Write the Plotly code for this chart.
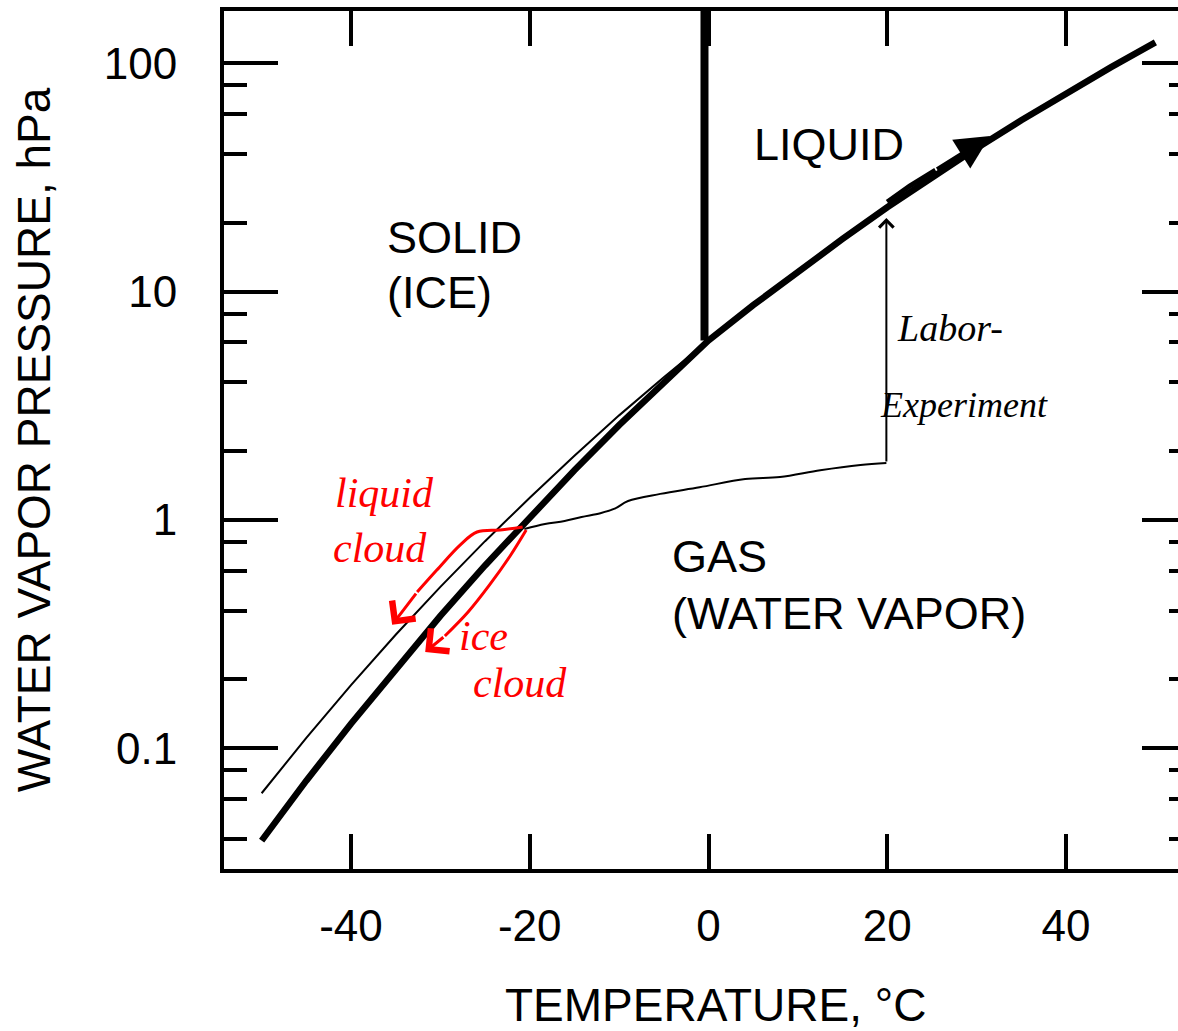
import numpy as np
import plotly.graph_objects as go

# ---------------- data ----------------
# heavy curve: saturation vapour pressure over ice (T<0) and liquid water (T>0), hPa
temp_c = [-50, -45, -40, -35, -30, -25, -20, -15, -10, -5, 0,
          5, 10, 15, 20, 25, 30, 35, 40, 45, 50]
e_sat = [0.0394, 0.0721, 0.128, 0.223, 0.380, 0.632, 1.03, 1.65, 2.60, 4.02, 6.11,
         8.72, 12.3, 17.0, 23.4, 31.7, 42.5, 56.3, 73.8, 95.9, 123.5]

# thin curve: over supercooled liquid water
temp_sc = [-50, -45, -40, -35, -30, -25, -20, -15, -10, -5, 0]
e_liq_sc = [0.0635, 0.111, 0.189, 0.314, 0.509, 0.807, 1.25, 1.91, 2.87, 4.22, 6.11]

# melting line (solid / liquid)
melt_t = [-0.45, -0.45]
melt_p = [6.11, 200.0]

# hand-drawn black path ("Labor-Experiment")
lab_t = [-20.6, -18.3, -16.1, -14.2, -12.1, -10.5, -9.0, -5.4, -1.0, 4.1, 8.0, 12.5, 17.0, 19.9]
lab_p = [0.912, 0.959, 0.989, 1.03, 1.07, 1.12, 1.21, 1.30, 1.39, 1.51, 1.54, 1.65, 1.74, 1.776]
lab_tip_t, lab_tip_p = 19.9, 21.0

# hand-drawn thick arrow along the liquid curve
warm_t = [20.0, 22.5, 25.4]
warm_p = [24.7, 29.0, 34.0]
warm_tip_t, warm_tip_p = 31.5, 48.0

# red hand-drawn arrows
liq_t = [-20.8, -23.3, -25.9, -27.8, -30.4, -32.6]
liq_p = [0.931, 0.903, 0.885, 0.776, 0.603, 0.483]
liq_tip_t, liq_tip_p = -35.4, 0.347

ice_t = [-20.4, -22.2, -24.5, -26.9, -29.5]
ice_p = [0.903, 0.695, 0.519, 0.395, 0.310]
ice_tip_t, ice_tip_p = -31.7, 0.264

# axis ticks
x_ticks = [-40, -20, 0, 20, 40]
x_tick_text = ["-40", "-20", "0", "20", "40"]
y_ticks = [0.1, 1, 10, 100]
y_tick_text = ["0.1", "1", "10", "100"]
y_minor = [0.04, 0.06, 0.08, 0.2, 0.4, 0.6, 0.8, 2, 4, 6, 8, 20, 40, 60, 80]

FONT = "Liberation Sans, Arial, Helvetica, sans-serif"
HAND = "Liberation Serif, DejaVu Serif, serif"
RED = "#ff0000"

fig = go.Figure()

fig.add_trace(go.Scatter(x=temp_sc, y=e_liq_sc, mode="lines",
                         line=dict(color="black", width=2), hoverinfo="skip"))
fig.add_trace(go.Scatter(x=temp_c, y=e_sat, mode="lines",
                         line=dict(color="black", width=6.5), hoverinfo="skip"))
fig.add_trace(go.Scatter(x=melt_t, y=melt_p, mode="lines",
                         line=dict(color="black", width=8), hoverinfo="skip"))
fig.add_trace(go.Scatter(x=lab_t, y=lab_p, mode="lines",
                         line=dict(color="black", width=2, shape="spline"), hoverinfo="skip"))
fig.add_trace(go.Scatter(x=warm_t, y=warm_p, mode="lines",
                         line=dict(color="black", width=5), hoverinfo="skip"))
fig.add_trace(go.Scatter(x=liq_t, y=liq_p, mode="lines",
                         line=dict(color=RED, width=3, shape="spline"), hoverinfo="skip"))
fig.add_trace(go.Scatter(x=ice_t, y=ice_p, mode="lines",
                         line=dict(color=RED, width=3, shape="spline"), hoverinfo="skip"))
# invisible trace to activate the right-hand tick axis
fig.add_trace(go.Scatter(x=temp_c, y=e_sat, yaxis="y2", mode="lines",
                         line=dict(width=0), opacity=0, hoverinfo="skip"))

L = np.log10
ann = []


def arrow(x0, y0, x1, y1, color, width, head, size):
    ann.append(dict(x=x1, y=L(y1), ax=x0, ay=L(y0), xref="x", yref="y",
                    axref="x", ayref="y", showarrow=True, text="",
                    arrowcolor=color, arrowwidth=width, arrowhead=head,
                    arrowsize=size, standoff=0, startstandoff=0))


arrow(lab_t[-1], lab_p[-1], lab_tip_t, lab_tip_p, "black", 2, 4, 1.4)
arrow(warm_t[-1], warm_p[-1], warm_tip_t, warm_tip_p, "black", 4, 2, 1.7)
arrow(liq_t[-1], liq_p[-1], liq_tip_t, liq_tip_p, RED, 3, 4, 1.9)
arrow(ice_t[-1], ice_p[-1], ice_tip_t, ice_tip_p, RED, 3, 4, 1.9)


def label(x, p, text, size=45, anchor="left", family=FONT, color="black", italic=False):
    d = dict(x=x, y=L(p), xref="x", yref="y", text=text, showarrow=False,
             xanchor=anchor, yanchor="middle",
             font=dict(family=family, size=size, color=color))
    if italic:
        d["font"]["style"] = "italic"
    ann.append(d)


label(4.9, 43.9, "LIQUID")
label(-36.2, 17.2, "SOLID")
label(-36.2, 9.86, "(ICE)")
label(-4.3, 0.688, "GAS")
label(-4.3, 0.391, "(WATER VAPOR)")

label(-36.2, 1.31, "liquid", size=42, anchor="center", family=HAND, color=RED, italic=True)
label(-36.8, 0.753, "cloud", size=42, anchor="center", family=HAND, color=RED, italic=True)
label(-25.2, 0.31, "ice", size=42, anchor="center", family=HAND, color=RED, italic=True)
label(-21.1, 0.193, "cloud", size=42, anchor="center", family=HAND, color=RED, italic=True)
label(27.0, 6.93, "Labor-", size=38, anchor="center", family=HAND, italic=True)
label(28.6, 3.18, "Experiment", size=36, anchor="center", family=HAND, italic=True)

# x-axis title
ann.append(dict(x=(715 - 224) / 954, y=-0.1585, xref="paper", yref="paper",
                text="TEMPERATURE, °C", showarrow=False, xanchor="center",
                yanchor="middle", font=dict(family=FONT, size=46, color="black")))

yrange = [-1.529, 2.229]

fig.update_layout(
    width=1178, height=1031,
    margin=dict(l=224, r=0, t=11, b=162, autoexpand=False),
    paper_bgcolor="white", plot_bgcolor="white",
    showlegend=False,
    font=dict(family=FONT, size=44, color="black"),
    annotations=ann,
    xaxis=dict(range=[-54.21, 52.53], tickmode="array", tickvals=x_ticks,
               ticktext=x_tick_text,
               ticks="inside", ticklen=35, tickwidth=4, tickcolor="black",
               showline=True, linewidth=4, linecolor="black", mirror="ticks",
               showgrid=False, zeroline=False, ticklabelstandoff=15,
               tickfont=dict(size=44)),
    yaxis=dict(type="log", range=yrange, tickmode="array", tickvals=y_ticks,
               ticktext=y_tick_text, ticks="inside", ticklen=54, tickwidth=4,
               tickcolor="black", showline=True, linewidth=4, linecolor="black",
               showgrid=False, zeroline=False, ticklabelstandoff=34,
               tickfont=dict(size=44),
               minor=dict(tickmode="array", tickvals=y_minor, ticks="inside",
                          ticklen=23, tickwidth=4, tickcolor="black", showgrid=False),
               title=dict(text="WATER VAPOR PRESSURE, hPa", standoff=40,
                          font=dict(size=46))),
    yaxis2=dict(type="log", range=yrange, overlaying="y", side="right", anchor="x",
                tickmode="array", tickvals=y_ticks, showticklabels=False,
                ticks="inside", ticklen=36, tickwidth=4, tickcolor="black",
                showline=False, showgrid=False, zeroline=False,
                minor=dict(tickmode="array", tickvals=y_minor, ticks="inside",
                           ticklen=9, tickwidth=4, tickcolor="black", showgrid=False)),
)

fig.write_html("out.html")
